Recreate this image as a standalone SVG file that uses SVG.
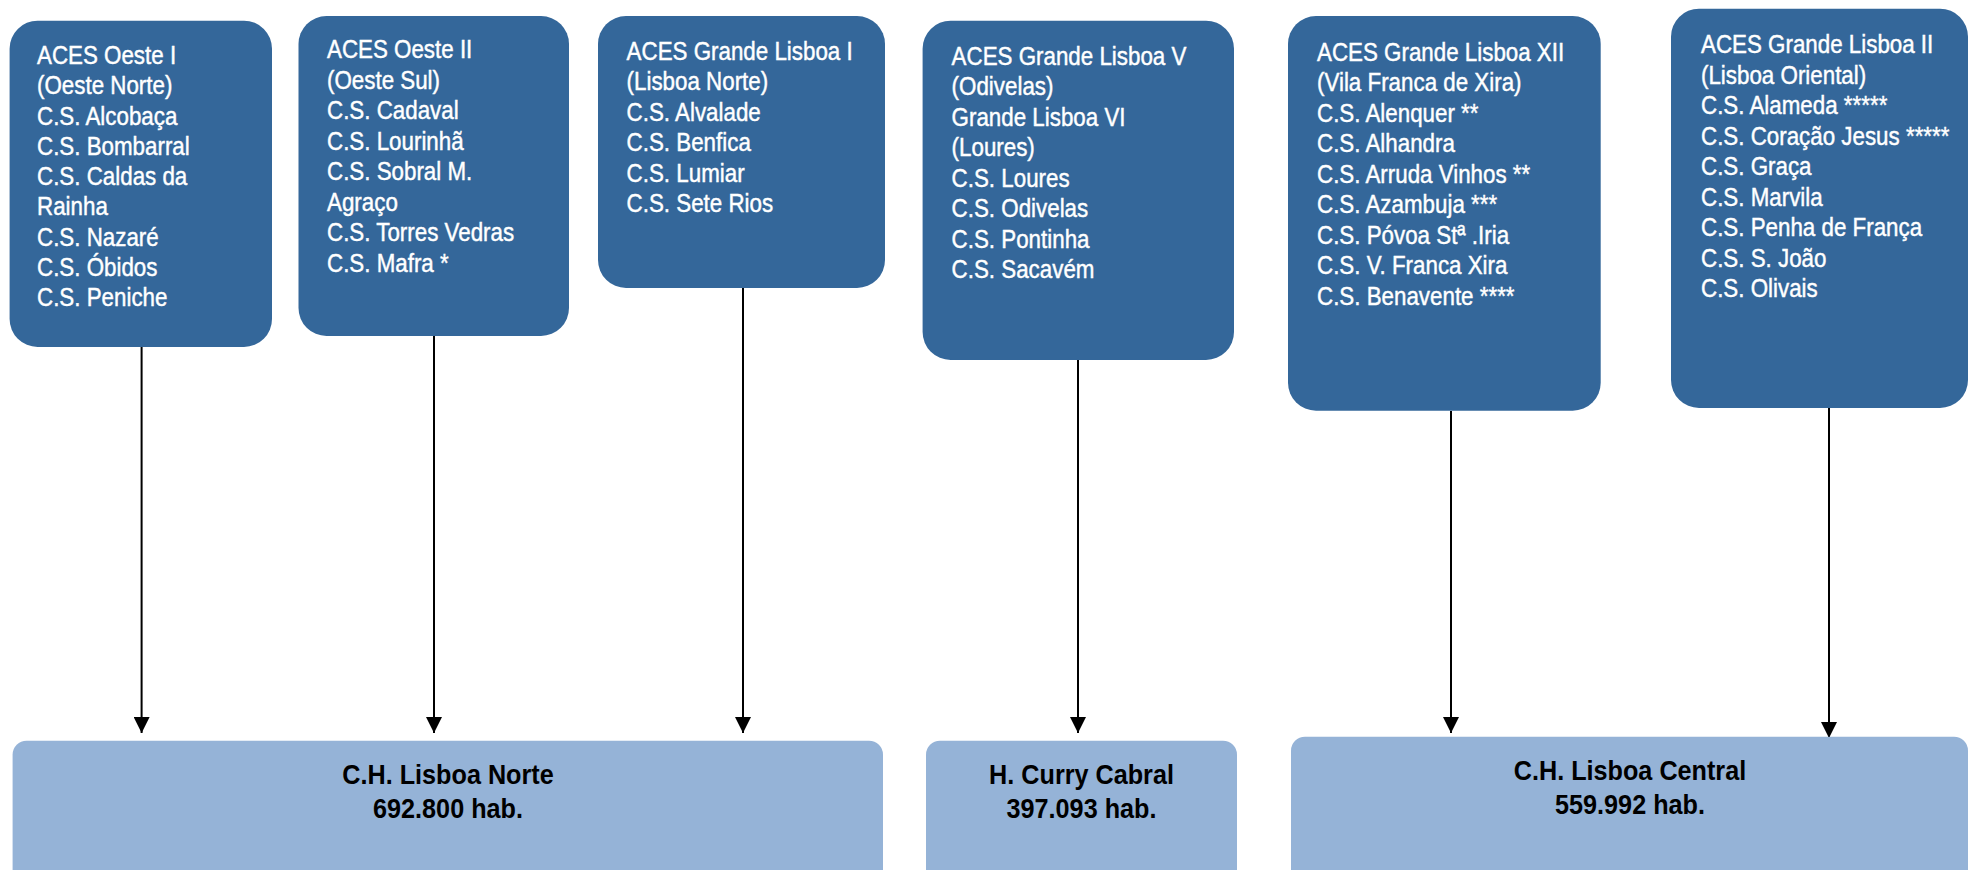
<svg xmlns="http://www.w3.org/2000/svg" width="1969" height="870" viewBox="0 0 1969 870">
<style>
.top{fill:#34679A}
.bot{fill:#95B3D7}
.t{font-family:"Liberation Sans",Arial,sans-serif;font-size:26px;fill:#fff;stroke:#fff;stroke-width:0.45px}
.b{font-family:"Liberation Sans",Arial,sans-serif;font-size:28px;font-weight:bold;fill:#000;text-anchor:middle}
.c{stroke:#000;stroke-width:2;fill:none;marker-end:url(#ah)}
</style>
<defs>
<marker id="ah" markerUnits="userSpaceOnUse" markerWidth="16" markerHeight="16" viewBox="0 0 16 16" refX="16" refY="8" orient="auto">
<path d="M0,0 L16,8 L0,16 z" fill="#000"/>
</marker>
</defs>
<rect width="1969" height="870" fill="#fff"/>
<g id="connectors">
<line class="c" x1="141.6" y1="347" x2="141.6" y2="733"/>
<line class="c" x1="434" y1="336" x2="434" y2="733"/>
<line class="c" x1="743" y1="288" x2="743" y2="733"/>
<line class="c" x1="1078" y1="360" x2="1078" y2="733"/>
<line class="c" x1="1451" y1="411" x2="1451" y2="733"/>
<line class="c" x1="1829" y1="408" x2="1829" y2="738"/>
</g>
<g id="aces-oeste-1">
<rect class="top" x="9.6" y="20.7" width="262.4" height="326.3" rx="28"/>
<g transform="translate(37,0) scale(0.86,1)">
<text class="t" x="0" y="64"><tspan x="0">ACES Oeste I</tspan><tspan x="0" dy="30.3">(Oeste Norte)</tspan><tspan x="0" dy="30.3">C.S. Alcobaça</tspan><tspan x="0" dy="30.3">C.S. Bombarral</tspan><tspan x="0" dy="30.3">C.S. Caldas da</tspan><tspan x="0" dy="30.3">Rainha</tspan><tspan x="0" dy="30.3">C.S. Nazaré</tspan><tspan x="0" dy="30.3">C.S. Óbidos</tspan><tspan x="0" dy="30.3">C.S. Peniche</tspan></text>
</g>
</g>
<g id="aces-oeste-2">
<rect class="top" x="298.5" y="16" width="270.5" height="320" rx="28"/>
<g transform="translate(327,0) scale(0.86,1)">
<text class="t" x="0" y="58.5"><tspan x="0">ACES Oeste II</tspan><tspan x="0" dy="30.5">(Oeste Sul)</tspan><tspan x="0" dy="30.5">C.S. Cadaval</tspan><tspan x="0" dy="30.5">C.S. Lourinhã</tspan><tspan x="0" dy="30.5">C.S. Sobral M.</tspan><tspan x="0" dy="30.5">Agraço</tspan><tspan x="0" dy="30.5">C.S. Torres Vedras</tspan><tspan x="0" dy="30.5">C.S. Mafra *</tspan></text>
</g>
</g>
<g id="aces-gl-1">
<rect class="top" x="598" y="16" width="287" height="272" rx="28"/>
<g transform="translate(626.6,0) scale(0.86,1)">
<text class="t" x="0" y="60"><tspan x="0">ACES Grande Lisboa I</tspan><tspan x="0" dy="30.5">(Lisboa Norte)</tspan><tspan x="0" dy="30.5">C.S. Alvalade</tspan><tspan x="0" dy="30.5">C.S. Benfica</tspan><tspan x="0" dy="30.5">C.S. Lumiar</tspan><tspan x="0" dy="30.5">C.S. Sete Rios</tspan></text>
</g>
</g>
<g id="aces-gl-5-6">
<rect class="top" x="922.6" y="20.7" width="311.4" height="339.3" rx="28"/>
<g transform="translate(951.6,0) scale(0.86,1)">
<text class="t" x="0" y="65"><tspan x="0">ACES Grande Lisboa V</tspan><tspan x="0" dy="30.5">(Odivelas)</tspan><tspan x="0" dy="30.5">Grande Lisboa VI</tspan><tspan x="0" dy="30.5">(Loures)</tspan><tspan x="0" dy="30.5">C.S. Loures</tspan><tspan x="0" dy="30.5">C.S. Odivelas</tspan><tspan x="0" dy="30.5">C.S. Pontinha</tspan><tspan x="0" dy="30.5">C.S. Sacavém</tspan></text>
</g>
</g>
<g id="aces-gl-12">
<rect class="top" x="1288" y="16" width="312.7" height="394.7" rx="28"/>
<g transform="translate(1317,0) scale(0.86,1)">
<text class="t" x="0" y="61"><tspan x="0">ACES Grande Lisboa XII</tspan><tspan x="0" dy="30.5">(Vila Franca de Xira)</tspan><tspan x="0" dy="30.5">C.S. Alenquer **</tspan><tspan x="0" dy="30.5">C.S. Alhandra</tspan><tspan x="0" dy="30.5">C.S. Arruda Vinhos **</tspan><tspan x="0" dy="30.5">C.S. Azambuja ***</tspan><tspan x="0" dy="30.5">C.S. Póvoa Stª .Iria</tspan><tspan x="0" dy="30.5">C.S. V. Franca Xira</tspan><tspan x="0" dy="30.5">C.S. Benavente ****</tspan></text>
</g>
</g>
<g id="aces-gl-2">
<rect class="top" x="1671" y="8.7" width="297" height="399.3" rx="28"/>
<g transform="translate(1701,0) scale(0.86,1)">
<text class="t" x="0" y="53.5"><tspan x="0">ACES Grande Lisboa II</tspan><tspan x="0" dy="30.5">(Lisboa Oriental)</tspan><tspan x="0" dy="30.5">C.S. Alameda *****</tspan><tspan x="0" dy="30.5">C.S. Coração Jesus *****</tspan><tspan x="0" dy="30.5">C.S. Graça</tspan><tspan x="0" dy="30.5">C.S. Marvila</tspan><tspan x="0" dy="30.5">C.S. Penha de França</tspan><tspan x="0" dy="30.5">C.S. S. João</tspan><tspan x="0" dy="30.5">C.S. Olivais</tspan></text>
</g>
</g>
<g id="ch-lisboa-norte">
<rect class="bot" x="12.6" y="740.7" width="870.4" height="150" rx="14"/>
<g transform="translate(448,0) scale(0.9,1)">
<text class="b" x="0" y="784.5">C.H. Lisboa Norte</text>
<text class="b" x="0" y="818.5">692.800 hab.</text>
</g>
</g>
<g id="h-curry-cabral">
<rect class="bot" x="926" y="740.7" width="311" height="150" rx="14"/>
<g transform="translate(1081.5,0) scale(0.9,1)">
<text class="b" x="0" y="784.5">H. Curry Cabral</text>
<text class="b" x="0" y="818.5">397.093 hab.</text>
</g>
</g>
<g id="ch-lisboa-central">
<rect class="bot" x="1291" y="736.7" width="677" height="150" rx="14"/>
<g transform="translate(1630,0) scale(0.9,1)">
<text class="b" x="0" y="780.5">C.H. Lisboa Central</text>
<text class="b" x="0" y="814.5">559.992 hab.</text>
</g>
</g>
</svg>
